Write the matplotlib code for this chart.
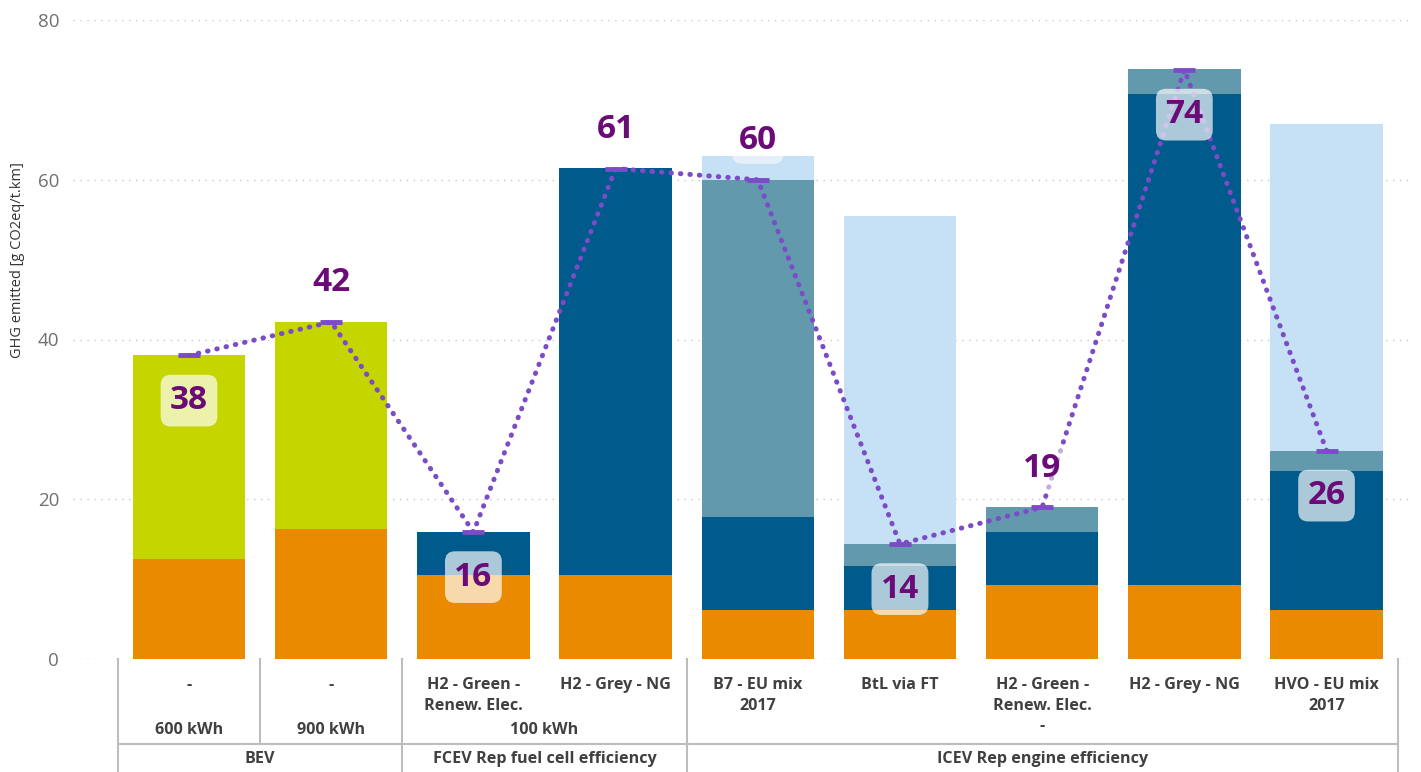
import matplotlib
matplotlib.use("Agg")
import matplotlib.pyplot as plt
import matplotlib.transforms as mtransforms
import numpy as np

plt.rcParams['font.family'] = ['Open Sans', 'DejaVu Sans']

# ---- data ----
categories = ["-", "-", "H2 - Green -\nRenew. Elec.", "H2 - Grey - NG",
              "B7 - EU mix\n2017", "BtL via FT", "H2 - Green -\nRenew. Elec.\n-",
              "H2 - Grey - NG", "HVO - EU mix\n2017"]
level2 = [("600 kWh", 0, 0), ("900 kWh", 1, 1), ("100 kWh", 2, 3)]
level3 = [("BEV", 0, 1), ("FCEV Rep fuel cell efficiency", 2, 3),
          ("ICEV Rep engine efficiency", 4, 8)]

seg_orange = [12.5, 16.25, 10.5, 10.5, 6.1, 6.1, 9.25, 9.25, 6.1]
seg_green = [25.5, 25.95, 0, 0, 0, 0, 0, 0, 0]
seg_darkblue = [0, 0, 5.4, 51.0, 11.65, 5.5, 6.65, 61.5, 17.4]
seg_teal = [0, 0, 0, 0, 42.25, 2.8, 3.1, 3.15, 2.6]
seg_lightblue = [0, 0, 0, 0, 3.0, 41.0, 0, 0, 40.9]

totals = [38.0, 42.2, 15.9, 61.4, 60.0, 14.4, 19.0, 73.8, 26.1]
label_above = [False, True, False, True, True, False, True, False, False]

colors = ["#E98A00", "#C5D500", "#005A8B", "#6299AD", "#C6E0F5"]
line_color = "#7B4BC8"
label_color = "#6A0B78"

fig = plt.figure(figsize=(14.21, 7.72), dpi=100)
ax = fig.add_axes([73 / 1421, 113 / 772, (1410 - 73) / 1421, 639 / 772])

x = np.arange(len(categories))
bottom = np.zeros(len(categories))
for seg, c in zip([seg_orange, seg_green, seg_darkblue, seg_teal, seg_lightblue], colors):
    seg = np.array(seg, dtype=float)
    ax.bar(x, seg, bottom=bottom, width=0.79, color=c, zorder=2)
    bottom += seg

ax.plot(x, totals, color=line_color, linestyle=(0, (0.1, 1.8)), linewidth=3.6,
        dash_capstyle='round', zorder=4)
ax.plot(x, totals, color=line_color, linestyle='none',
        marker='_', markersize=16, markeredgewidth=3.5, zorder=4)

for xi, v, above in zip(x, totals, label_above):
    if above:
        ax.text(xi, v + 4.9, f"{v:.0f}", ha='center', va='center', fontsize=24,
                fontweight='bold', color=label_color, zorder=6,
                bbox=dict(boxstyle='round,pad=0.2,rounding_size=0.3', fc='white', ec='none', alpha=0.55))
    else:
        ax.text(xi, v - 5.65, f"{v:.0f}", ha='center', va='center', fontsize=24,
                fontweight='bold', color=label_color, zorder=6,
                bbox=dict(boxstyle='round,pad=0.28,rounding_size=0.3', fc='white', ec='none', alpha=0.68))

ax.set_ylim(0, 80)
ax.set_xlim(-0.816, 8.587)
ax.set_yticks([0, 20, 40, 60, 80])
ax.yaxis.grid(True, linestyle=(0, (1, 4)), color='#C8C8C8', linewidth=1, zorder=0)
ax.set_axisbelow(True)
for s in ax.spines.values():
    s.set_visible(False)
ax.tick_params(axis='y', length=0, labelsize=13.5, labelcolor='#707070', pad=10)
ax.set_xticks([])

# hierarchical x axis
trans = mtransforms.blended_transform_factory(ax.transData, ax.transAxes)
lc = '#BDBDBD'
ybot = -0.18
ysep = -0.133
for b, y0 in [(-0.5, ybot), (0.5, ysep), (1.5, ybot), (3.5, ybot), (8.5, ybot)]:
    ax.plot([b, b], [0, y0], color=lc, lw=1.5, transform=trans, clip_on=False)
ax.plot([-0.5, 8.5], [ysep, ysep], color=lc, lw=1.5, transform=trans, clip_on=False)

tc = '#404040'
fs = 11.6
for xi, lab in zip(x, categories):
    ax.text(xi, -0.028, lab, ha='center', va='top', fontsize=fs, fontweight='bold',
            color=tc, linespacing=1.4, transform=trans, clip_on=False)
for lab, a, b in level2:
    ax.text((a + b) / 2, -0.111, lab, ha='center', va='center', fontsize=fs,
            fontweight='bold', color=tc, transform=trans, clip_on=False)
for lab, a, b in level3:
    ax.text((a + b) / 2, -0.157, lab, ha='center', va='center', fontsize=fs,
            fontweight='bold', color=tc, transform=trans, clip_on=False)

fig.text(18 / 1421, 1 - 260 / 772, "GHG emitted [g CO2eq/t.km]", rotation=90,
         ha='center', va='center', fontsize=10.5, color='#333333')

fig.savefig("out.png", dpi=100)
